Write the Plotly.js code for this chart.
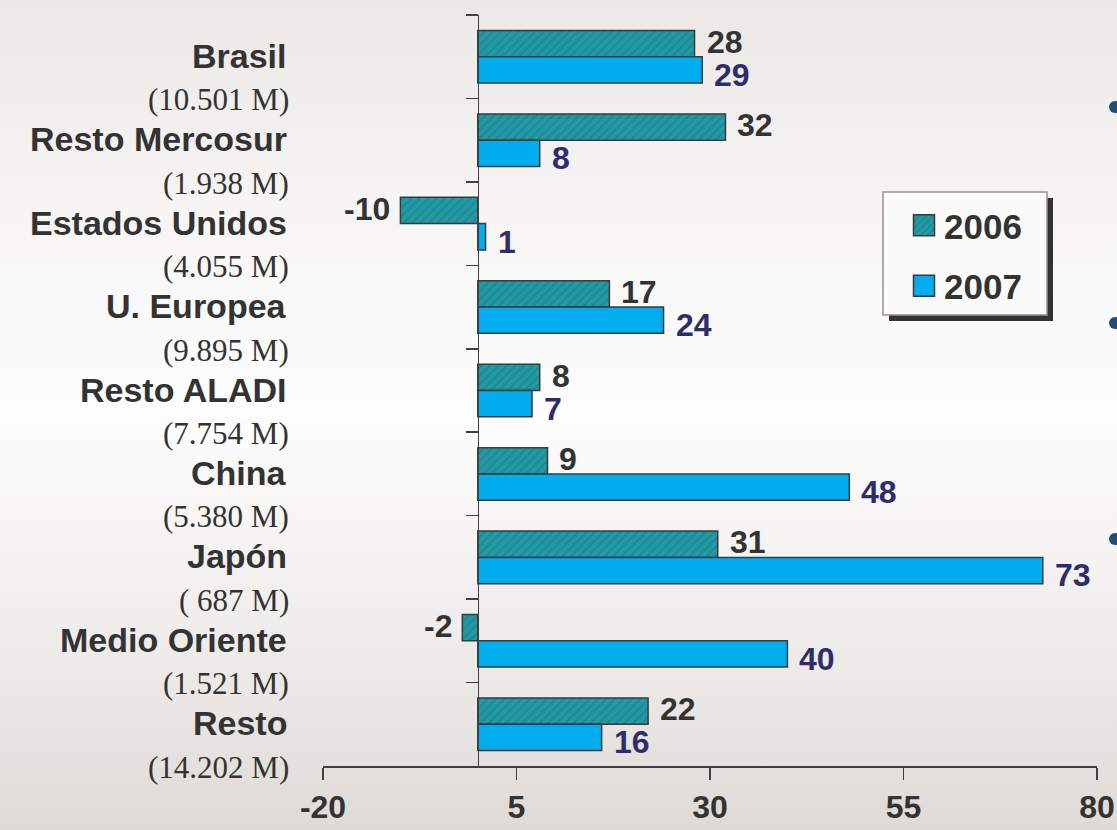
<!DOCTYPE html>
<html>
<head>
<meta charset="utf-8">
<script src="https://cdn.plot.ly/plotly-3.0.1.min.js"></script>
<style>
  html, body { margin: 0; padding: 0; }
  body {
    width: 1117px;
    height: 830px;
    background: linear-gradient(to bottom, #ebe8e5 0%, #f6f5f4 25%, #fdfdfd 50%, #f0eeec 75%, #dfdad6 100%);
  }
  #chart { width: 1117px; height: 830px; }
</style>
</head>
<body>
<div id="chart"></div>
<script>
const regions = ['Brasil', 'Resto Mercosur', 'Estados Unidos', 'U. Europea', 'Resto ALADI', 'China', 'Japón', 'Medio Oriente', 'Resto'];
const amounts = ['(10.501 M)', '(1.938 M)', '(4.055 M)', '(9.895 M)', '(7.754 M)', '(5.380 M)', '( 687 M)', '(1.521 M)', '(14.202 M)'];
const values2006 = [28, 32, -10, 17, 8, 9, 31, -2, 22];
const values2007 = [29, 8, 1, 24, 7, 48, 73, 40, 16];
const xTicks = [-20, 5, 30, 55, 80];

const boldFont = 'Liberation Sans, Arial, sans-serif';
const serifFont = 'Liberation Serif, Times New Roman, serif';

// plot box in pixels, used to turn pixel spots into paper coordinates
const M = { l: 323, r: 20, t: 15, b: 64 };
const plotW = 1117 - M.l - M.r;
const plotH = 830 - M.t - M.b;
const px = function (x) { return (x - M.l) / plotW; };
const py = function (y) { return (830 - M.b - y) / plotH; };

const traces = [
  {
    type: 'bar',
    orientation: 'h',
    name: '2006',
    legendgroup: 'a',
    y: regions,
    x: values2006,
    marker: {
      color: '#1e9ba6',
      line: { color: '#3a3a3a', width: 1.5 },
      pattern: { shape: '/', fillmode: 'overlay', fgcolor: '#2b6d76', size: 6, solidity: 0.3 }
    },
    hoverinfo: 'none'
  },
  {
    type: 'bar',
    orientation: 'h',
    name: '2007',
    legendgroup: 'b',
    y: regions,
    x: values2007,
    marker: {
      color: '#00adef',
      line: { color: '#3a3a3a', width: 1.5 }
    },
    hoverinfo: 'none'
  }
];

const annotations = [];
regions.forEach(function (r, i) {
  // region name with its amount underneath
  annotations.push({
    xref: 'paper', yref: 'y', x: px(289), y: r, yshift: 1,
    xanchor: 'right', yanchor: 'middle', showarrow: false,
    text: r,
    font: { family: boldFont, size: 34, weight: 'bold', color: '#333333' }
  });
  annotations.push({
    xref: 'paper', yref: 'y', x: px(291), y: r, yshift: -43,
    xanchor: 'right', yanchor: 'middle', showarrow: false,
    text: amounts[i],
    font: { family: serifFont, size: 31, color: '#333333' }
  });
  // value labels at the end of each bar
  [[values2006[i], 15, '#333333'], [values2007[i], -18, '#2e2d6b']].forEach(function (d) {
    const v = d[0];
    annotations.push({
      xref: 'x', yref: 'y', x: v, y: r, yshift: d[1],
      xanchor: v < 0 ? 'right' : 'left', xshift: v < 0 ? -8 : 10,
      yanchor: 'middle', showarrow: false,
      text: String(v),
      font: { family: boldFont, size: 32, weight: 'bold', color: d[2] }
    });
  });
});

// slide bullets cut off at the right edge
const shapes = [107, 323, 539].map(function (y) {
  return {
    type: 'circle', xref: 'paper', yref: 'paper',
    xsizemode: 'pixel', ysizemode: 'pixel',
    xanchor: px(1115), yanchor: py(y),
    x0: -6, x1: 6, y0: -6, y1: 6,
    fillcolor: '#1f4e79', line: { width: 0 }
  };
});
// legend box and its shadow
shapes.push({
  type: 'rect', xref: 'paper', yref: 'paper', layer: 'below',
  x0: px(889), x1: px(1053), y0: py(321), y1: py(198),
  fillcolor: '#333333', line: { width: 0 }
});
shapes.push({
  type: 'rect', xref: 'paper', yref: 'paper', layer: 'below',
  x0: px(883), x1: px(1047), y0: py(315), y1: py(192),
  fillcolor: '#fbfbfb', line: { color: '#9a908c', width: 1.5 }
});

const layout = {
  width: 1117,
  height: 830,
  margin: M,
  paper_bgcolor: 'rgba(0,0,0,0)',
  plot_bgcolor: 'rgba(0,0,0,0)',
  barmode: 'group',
  bargap: 0.37,
  bargroupgap: 0,
  showlegend: true,
  legend: {
    x: px(904), xanchor: 'left',
    y: py(196), yanchor: 'top',
    bgcolor: 'rgba(0,0,0,0)',
    borderwidth: 0,
    traceorder: 'grouped',
    tracegroupgap: 12,
    font: { family: boldFont, size: 35, weight: 'bold', color: '#333333' }
  },
  xaxis: {
    range: [-20, 80],
    tickvals: xTicks,
    ticktext: xTicks.map(String),
    ticks: 'outside',
    ticklen: 12,
    tickwidth: 1.5,
    tickcolor: '#404040',
    showline: true,
    linecolor: '#404040',
    linewidth: 1.5,
    showgrid: false,
    zeroline: false,
    fixedrange: true,
    tickfont: { family: boldFont, size: 32, weight: 'bold', color: '#333333' }
  },
  yaxis: {
    type: 'category',
    range: [regions.length - 0.5, -0.5],
    anchor: 'free',
    position: 0.2,
    showline: true,
    linecolor: '#404040',
    linewidth: 1.5,
    ticks: 'outside',
    tickson: 'boundaries',
    ticklen: 12,
    tickwidth: 1.5,
    tickcolor: '#404040',
    showticklabels: false,
    showgrid: false,
    fixedrange: true
  },
  annotations: annotations,
  shapes: shapes
};

Plotly.newPlot('chart', traces, layout, { displayModeBar: false, staticPlot: true }).then(function () {
  // bigger legend squares, as in the original
  document.querySelectorAll('#chart .legend .legendpoints path').forEach(function (p) {
    p.setAttribute('d', 'M10.5,10.5H-10.5V-10.5H10.5Z');
  });
});
</script>
</body>
</html>
